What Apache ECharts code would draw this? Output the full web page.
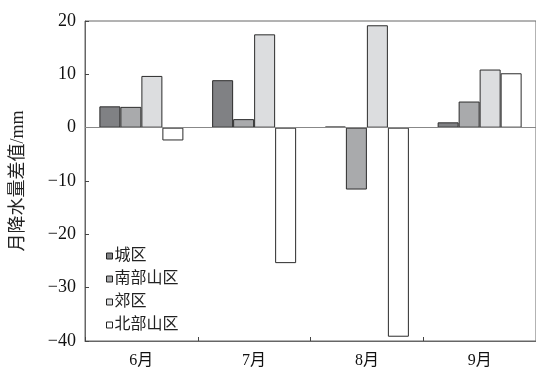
<!DOCTYPE html>
<html><head><meta charset="utf-8">
<script src="https://cdn.jsdelivr.net/npm/echarts@6/dist/echarts.min.js"></script>
<style>html,body{margin:0;padding:0;background:#fff}#c{width:536px;height:374px}</style>
</head><body><div id="c"></div>
<script>
var categories = ['6月', '7月', '8月', '9月'];
var seriesNames = ['城区', '南部山区', '郊区', '北部山区'];
var chengqu = [4.0, 8.9, 0.2, 1.0];
var nanbu = [3.9, 1.6, -11.6, 4.9];
var jiaoqu = [9.7, 17.5, 19.2, 10.9];
var beibu = [-2.4, -25.4, -39.2, 10.2];
var yTicks = [-40, -30, -20, -10, 0, 10, 20];
var colors = ['#808184', '#a9aaac', '#dcdddf', '#ffffff'];

var serif = '"Times New Roman","Liberation Serif","Noto Sans CJK SC",serif';
var values = [chengqu, nanbu, jiaoqu, beibu];
var series = seriesNames.map(function (n, i) {
  var s = {
    name: n, type: 'bar', data: values[i], barWidth: 21, barGap: '0%',
    itemStyle: { color: colors[i], borderColor: '#2b2b2b', borderWidth: 1 }
  };
  if (i === 0) {
    s.markLine = { silent: true, symbol: 'none', label: { show: false },
      lineStyle: { color: '#888', width: 1.2, type: 'solid' }, data: [{ yAxis: 0 }] };
    s.z = 1;
  }
  return s;
});
var chart = echarts.init(document.getElementById('c'), null, { renderer: 'canvas' });
chart.setOption({
  animation: false,
  backgroundColor: '#fff',
  grid: { left: 85, right: -2, top: 21, bottom: 33, show: true, borderColor: '#666', borderWidth: 1, backgroundColor: 'transparent' },
  legend: {
    orient: 'vertical', left: 101, top: 243, itemWidth: 6, itemHeight: 6, itemGap: 7,
    icon: 'rect', data: seriesNames,
    textStyle: { fontFamily: serif, fontSize: 16, color: '#222', padding: [0, 0, 0, -3] },
    itemStyle: { borderColor: '#222', borderWidth: 1 }
  },
  xAxis: {
    type: 'category', data: categories,
    axisLine: { onZero: false, lineStyle: { color: '#666', width: 1 } },
    axisTick: { show: true, inside: true, length: 4, alignWithLabel: false, lineStyle: { color: '#444' } },
    axisLabel: { fontFamily: serif, fontSize: 16, color: '#111', margin: 12 }
  },
  yAxis: {
    type: 'value', min: -40, max: 20, interval: 10,
    name: '月降水量差值/mm', nameLocation: 'middle', nameGap: 58, nameRotate: 90,
    nameTextStyle: { fontFamily: serif, fontSize: 18, color: '#222' },
    axisLine: { show: true, lineStyle: { color: '#666', width: 1 } },
    axisTick: { show: true, inside: true, length: 4, lineStyle: { color: '#444' } },
    splitLine: { show: false },
    axisLabel: { fontFamily: serif, fontSize: 18, color: '#111', margin: 9,
      formatter: function (v) { return yTicks.indexOf(v) < 0 ? '' : (v < 0 ? '\u2212' + Math.abs(v) : String(v)); } }
  },
  series: series
});
</script></body></html>
